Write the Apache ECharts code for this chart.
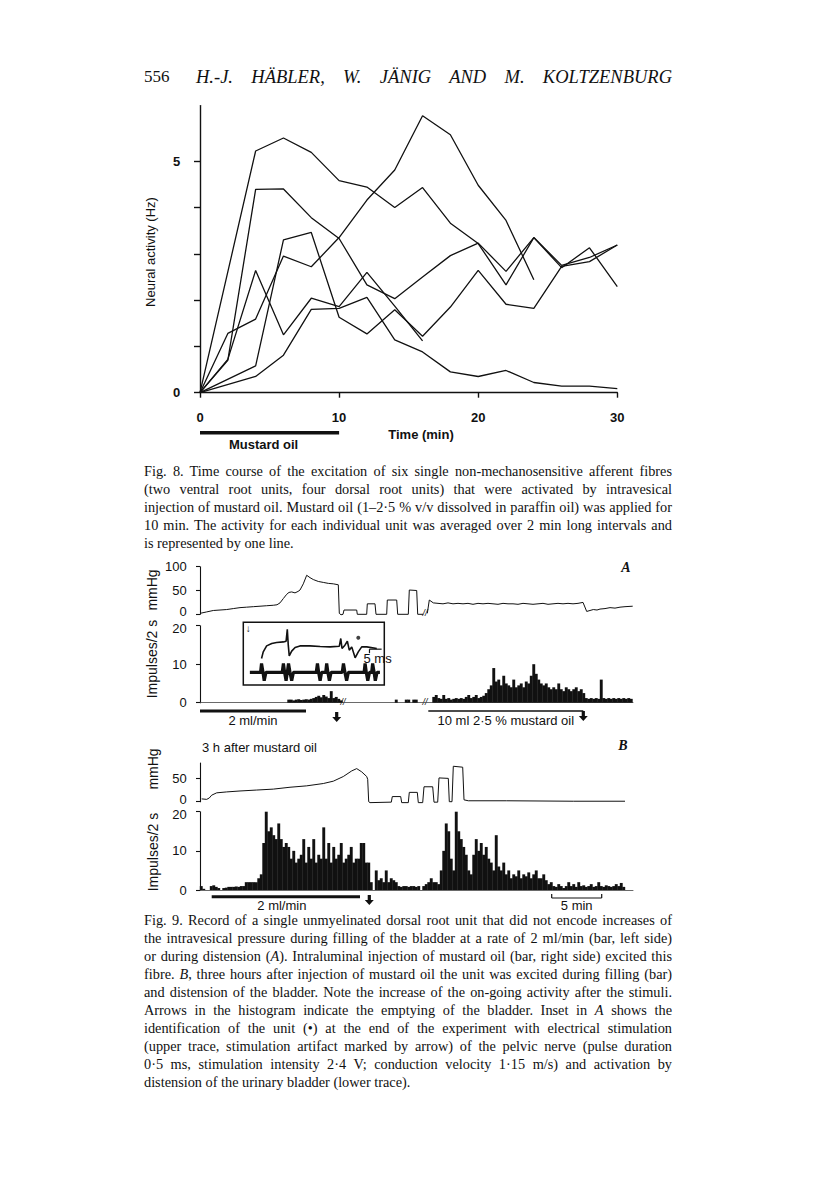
<!DOCTYPE html>
<html><head><meta charset="utf-8">
<script src="https://cdn.jsdelivr.net/npm/echarts@6/dist/echarts.min.js"></script>
<style>
html,body{margin:0;padding:0;background:#fff;}
#page{position:relative;width:816px;height:1183px;overflow:hidden;background:#fff;}
#chart{position:absolute;left:0;top:0;width:816px;height:1183px;}
.hdr{position:absolute;top:67px;height:20px;line-height:20px;font-family:'Liberation Serif','Times New Roman',serif;font-size:18.5px;color:#111;white-space:nowrap;}
.cap{position:absolute;left:144px;width:528px;height:14px;line-height:14px;font-family:'Liberation Serif','Times New Roman',serif;font-size:14.3px;color:#111;white-space:nowrap;}
</style></head>
<body><div id="page">
<div id="chart"></div>
<div class="hdr" style="left:144px;font-size:17px;">556</div>
<div class="hdr jt" data-w="476" style="left:196px;font-style:italic;"><span>H.-J. HÄBLER, W. JÄNIG AND M. KOLTZENBURG</span></div>

<div class="cap jt" data-w="528" style="top:464px"><span>Fig. 8. Time course of the excitation of six single non-mechanosensitive afferent fibres</span></div>
<div class="cap jt" data-w="528" style="top:482px"><span>(two ventral root units, four dorsal root units) that were activated by intravesical</span></div>
<div class="cap jt" data-w="528" style="top:500px"><span>injection of mustard oil. Mustard oil (1–2·5 % v/v dissolved in paraffin oil) was applied for</span></div>
<div class="cap jt" data-w="528" style="top:518px"><span>10 min. The activity for each individual unit was averaged over 2 min long intervals and</span></div>
<div class="cap" style="top:536px"><span>is represented by one line.</span></div>

<div class="cap jt" data-w="528" style="top:913px"><span>Fig. 9. Record of a single unmyelinated dorsal root unit that did not encode increases of</span></div>
<div class="cap jt" data-w="528" style="top:931px"><span>the intravesical pressure during filling of the bladder at a rate of 2 ml/min (bar, left side)</span></div>
<div class="cap jt" data-w="528" style="top:949px"><span>or during distension (<i>A</i>). Intraluminal injection of mustard oil (bar, right side) excited this</span></div>
<div class="cap jt" data-w="528" style="top:967px"><span>fibre. <i>B</i>, three hours after injection of mustard oil the unit was excited during filling (bar)</span></div>
<div class="cap jt" data-w="528" style="top:985px"><span>and distension of the bladder. Note the increase of the on-going activity after the stimuli.</span></div>
<div class="cap jt" data-w="528" style="top:1003px"><span>Arrows in the histogram indicate the emptying of the bladder. Inset in <i>A</i> shows the</span></div>
<div class="cap jt" data-w="528" style="top:1021px"><span>identification of the unit (•) at the end of the experiment with electrical stimulation</span></div>
<div class="cap jt" data-w="528" style="top:1039px"><span>(upper trace, stimulation artifact marked by arrow) of the pelvic nerve (pulse duration</span></div>
<div class="cap jt" data-w="528" style="top:1057px"><span>0·5 ms, stimulation intensity 2·4 V; conduction velocity 1·15 m/s) and activation by</span></div>
<div class="cap" style="top:1075px"><span>distension of the urinary bladder (lower trace).</span></div>
</div>
<script>
// ================= DATA =================
// Fig. 8: neural activity (Hz) of six units vs time (min)
const fig8XTicks = [0, 10, 20, 30];
const fig8YTickLabels = [0, 5];
const fig8YTicks = [0, 1, 2, 3, 4, 5];
const unit1 = [[0,0],[4,5.22],[6,5.50],[8,5.19],[10,4.58],[12,4.44],[14,4.00],[16,4.43],[18,3.66],[20,3.22],[22,2.33],[24,3.35],[26,2.70],[28,3.13],[30,2.29]];
const unit2 = [[0,0],[2,0.70],[4,4.39],[6,4.40],[8,3.78],[10,3.33],[12,2.33],[14,2.03],[16,2.50],[18,2.96],[20,3.23],[22,2.62],[24,3.35],[26,2.75],[28,2.92],[30,3.19]];
const unit3 = [[0,0],[2,1.28],[4,1.59],[6,2.95],[8,2.72],[10,3.35],[12,4.16],[14,4.81],[16,5.98],[18,5.57],[20,4.48],[22,3.72],[24,2.44]];
const unit4 = [[0,0],[4,0.58],[6,3.30],[8,3.46],[10,1.63],[12,1.27],[14,1.79],[16,1.22],[18,1.85],[20,2.64],[22,1.91],[24,1.82],[26,2.73],[28,2.83],[30,3.19]];
const unit5 = [[0,0],[2,0.72],[4,2.64],[6,1.25],[8,2.04],[10,1.86],[12,2.60],[14,1.87],[16,1.12]];
const unit6 = [[0,0],[4,0.35],[6,0.81],[8,1.80],[10,1.82],[12,2.06],[14,1.14],[16,0.88],[18,0.45],[20,0.35],[22,0.48],[24,0.22],[26,0.14],[28,0.14],[30,0.09]];
const mustardOil8 = [0, 10];

// Fig. 9: time in minutes of record (10 px = 1 min), histogram bins of 0.25 min
const binWidth = 0.25;
const pressATicks = [0, 50, 100];
const pressBTicks = [0, 50];
const histTicks = [0, 10, 20];
const pressA = [[0,2],[0.67,5],[1.33,8],[2,9],[2.67,10],[3.33,12],[4,14],[4.67,15],[5.33,16],[6,17],[6.67,18],[7.33,19],[7.7,20],[8,24],[8.33,33],[8.67,42],[8.9,46],[9.17,47],[9.5,45],[9.8,48],[10,51],[10.33,64],[10.67,82],[11,77],[11.33,73],[11.83,69],[12.33,67],[12.83,65],[13.33,64],[13.83,62],[13.93,2],[14.1,-1],[14.3,0],[14.4,9],[15.67,9],[15.73,0],[16.67,0],[16.73,22],[17.5,22],[17.6,0],[18.67,0],[18.73,30],[19.67,30],[19.77,0],[20.83,0],[20.93,51],[21.67,50],[21.77,0],[22.33,0],[22.5,'-'],[22.73,2],[22.93,30],[23.33,24],[23.8,23],[24.3,22],[24.8,24],[25.3,22],[25.8,23],[26.3,22],[26.8,23],[27.3,21],[27.8,23],[28.3,22],[28.8,23],[29.3,22],[29.8,21],[30.3,23],[30.8,22],[31.3,22],[31.8,21],[32.3,23],[32.8,22],[33.3,21],[33.8,22],[34.3,23],[34.8,21],[35.3,22],[35.8,23],[36.3,22],[36.8,23],[37.3,22],[37.8,23],[38.3,25],[38.67,6],[39,8],[39.33,10],[39.7,9],[40,11],[40.5,12],[41,14],[41.5,13],[42,15],[42.5,16],[43.27,17]];
const histA = [0,0,0,0,0,0,0,0,0,0,0,0,0,0,0,0,0,0,0,0,0,0,0,0,0,0,0,0,0,0,0,0,0,0,0,
  0.8,0.8,0.6,0.8,0.9,0.7,0.8,0.9,0.8,1.0,
  1.2,1.5,1.8,1.4,2.0,1.6,1.2,
  3.0,1.2,1.5,1.0,0.6,
  0,0,0,0,0,0,0,0,0,0,0,0,0,0,0,0,0,0,0,0,0,
  0.8,0,0,0,0.8,0.8,0,0.8,0.8,
  0,0,0,0,0,0,
  1.5,2.0,1.2,1.0,2.0,1.0,1.2,0.8,1.0,1.2,1.0,1.2,
  1.0,1.5,2.0,1.2,1.5,2.0,1.2,1.5,1.8,
  2.5,3.5,4.5,
  9.0,5.5,6.0,
  4.5,7.0,5.0,4.5,
  4.0,6.0,4.0,4.5,5.0,4.0,
  5.5,5.0,7.0,
  10.0,7.5,6.0,
  5.0,4.5,5.0,4.0,
  3.5,4.0,3.5,5.0,3.5,3.0,4.0,3.5,3.0,3.5,4.0,3.0,3.5,2.5,
  1.2,1.0,1.2,1.0,1.2,1.0,6.0,1.2,1.0,1.2,1.0,1.2,1.0,1.2,1.0,1.2,1.0,1.2,1.0];
const pressB = [[0.17,6],[0.67,5],[0.93,8],[1.17,14],[1.67,19],[2.67,21],[4,23],[5.67,25],[7.33,27],[9,31],[10.67,34],[12.33,39],[13.33,44],[14.33,54],[15.17,66],[15.67,71],[16.17,64],[16.67,54],[16.77,48],[16.87,0],[17,-2],[19,-1],[19.13,-1],[19.23,11],[20.07,11],[20.17,-2],[20.83,-2],[20.93,20],[21.73,20],[21.83,-2],[22.27,-2],[22.4,32],[23.27,32],[23.4,-1],[23.77,-1],[23.9,51],[24.83,50],[24.93,0],[25.2,0],[25.33,76],[26.27,74],[26.4,4],[26.83,2],[30.67,2],[37.33,1],[42.5,1]];
const histB = [1.0,0.3,0,0,1.0,1.2,0.8,0.5,0,0.5,0.6,0.8,0.8,0.8,0.9,0.8,
  1.0,1.0,2.0,2.0,2.0,2.0,2.0,
  3.0,4.0,
  12,20,15,16,
  14,13,17,13,11,12,
  11,8,10,7,8,9,13,7,11,8,13,7,9,8,16,8,12,7,11,8,9,12,7,8,9,11,7,8,8,12,12,7,7,
  2,0,
  5,2.5,3,2,5,2,3,2.5,2,
  1,0.8,1,1,0.8,1,1,0.8,1,0,
  1,1.5,2,3,2,2,1.5,
  5,10,17,15,8,5,21,15,13,11,9,5,
  4,9,13,10,12,9,11,8,
  7,5,14,6,5,7,
  4,5,3,4,3.5,5,3,4,3.5,4.5,3,4,5,3,
  3,4,2.5,1.5,2,
  1,0.8,1.5,1,0.5,1,2,1,1.5,0.8,2,1,1.2,0.8,1,1.5,0.8,1,2,1,0.8,1.2,1,0.8,1,1.5,1,1.8,0.8];
// stimulus annotations (record minutes)
const fillA = [0, 10.6];
const mustardA = [22.83, 38.33];
const emptyArrowA = 13.67;
const fillB = [1.17, 16.0];
const emptyArrowB = 16.93;
const scaleBarB = [35.17, 40.17];
const breaksA = [14.3, 22.5];
// Inset (ms, arbitrary amplitude)
const insetUpper = [[7.5,26.7],[8.2,33.3],[9.6,39.3],[11.7,41.7],[13.7,42.7],[16.5,43.3],[17.6,44],[18.1,56],[18.5,40],[18.9,29.3],[19.9,34],[21.3,37.7],[23.3,39.3],[27.4,39.3],[31.6,38.7],[35.7,38.3],[39.5,39],[40.1,46.7],[40.6,36.7],[41.8,40],[42.8,44],[43.6,35],[44.6,38.3],[46,27.3],[47.3,33.3],[48.7,38.3],[50.8,38.3],[54.9,36.7]];
const insetLower = [[2.7,12.7],[7.1,12.7],[7.5,21.7],[8.1,12.7],[8.6,4.3],[9.3,12.7],[16,12.7],[16.5,21.7],[17,12.7],[17.6,4.3],[18.1,12.7],[18.6,21.7],[19.2,12.7],[19.9,4.3],[20.6,12.7],[30,12.7],[30.5,21.7],[31,12.7],[31.6,4.3],[32.2,12.7],[33.9,12.7],[34.3,21.7],[34.8,12.7],[35.4,4.3],[36.1,12.7],[40.7,12.7],[41.2,21.7],[41.8,12.7],[42.5,4.3],[43.2,12.7],[49.7,12.7],[50.1,21.7],[50.6,12.7],[51.2,4.3],[51.9,12.7],[52.8,12.7],[53.2,21.7],[53.8,12.7],[54.3,4.3],[55,12.7],[56.2,12.7]];
const insetDot = [[47.3,47.5]];
const insetScale = [51.9, 56.9];

// ================= CHART =================
const INK = '#111';
const SANS = "'Liberation Sans', Arial, Helvetica, sans-serif";
const chart = echarts.init(document.getElementById('chart'), null, {renderer: 'svg', width: 816, height: 1183});

function hiddenX(g, max) {
  return {gridIndex: g, type: 'value', min: 0, max: max, show: false};
}
function histX(g) {
  return {gridIndex: g, type: 'value', min: 0, max: 43.3, axisLine: {show: true, lineStyle: {color: '#444', width: 0.8}},
    axisTick: {show: false}, axisLabel: {show: false}, splitLine: {show: false}};
}
// shiftVal: tick value whose label is nudged ('up' or 'dn') so stacked axes do not collide
function fig9Y(g, min, max, ticks, shiftVal, dir) {
  const rs = {fontSize: 13, fontFamily: SANS, color: INK};
  return {gridIndex: g, type: 'value', min: min, max: max, offset: 7.3,
    axisLine: {show: true, lineStyle: {color: INK, width: 1.1}},
    axisTick: {show: true, length: 4, customValues: ticks, lineStyle: {color: INK, width: 1.1}},
    axisLabel: {customValues: ticks, fontSize: 13, fontFamily: SANS, color: INK, margin: 6,
      formatter: v => (ticks.indexOf(v) < 0 ? '' : (v === shiftVal ? '{' + dir + '|' + v + '}' : String(v))),
      rich: {up: Object.assign({padding: [0, 0, 5, 0]}, rs), dn: Object.assign({padding: [5, 0, 0, 0]}, rs)}},
    splitLine: {show: false}};
}
const bars = (arr) => arr.map((v, i) => [i * binWidth + binWidth / 2, v]);
const fig8Line = (d) => ({type: 'line', xAxisIndex: 0, yAxisIndex: 0, data: d, showSymbol: false, symbol: 'none',
  lineStyle: {color: INK, width: 1.3}, silent: true});

const option = {
  animation: false,
  backgroundColor: 'transparent',
  grid: [
    {left: 200, top: 105.6, width: 417.3, height: 287.1, outerBoundsMode: 'none'},
    {left: 200, top: 566.7, width: 433, height: 47.6, outerBoundsMode: 'none'},
    {left: 200, top: 625.7, width: 433, height: 77, outerBoundsMode: 'none'},
    {left: 200, top: 763, width: 433, height: 38.7, outerBoundsMode: 'none'},
    {left: 200, top: 811.7, width: 433, height: 78.3, outerBoundsMode: 'none'},
    {left: 243.3, top: 622.3, width: 141, height: 62.7, show: true, borderColor: INK, borderWidth: 1.5, backgroundColor: '#fff', outerBoundsMode: 'none'}
  ],
  xAxis: [
    {gridIndex: 0, type: 'value', min: 0, max: 30, interval: 10, offset: 10.6,
      axisLine: {lineStyle: {color: INK, width: 1.4}},
      axisTick: {length: 5, lineStyle: {color: INK, width: 1.4}},
      axisLabel: {fontSize: 13, fontWeight: 'bold', fontFamily: SANS, color: INK, margin: 8,
        formatter: v => (fig8XTicks.indexOf(v) >= 0 ? String(v) : '')},
      splitLine: {show: false}},
    hiddenX(1, 43.3), histX(2), hiddenX(3, 43.3), histX(4), hiddenX(5, 58)
  ],
  yAxis: [
    {gridIndex: 0, type: 'value', min: 0, max: 6.2, offset: 10.7,
      axisLine: {show: true, lineStyle: {color: INK, width: 1.4}},
      axisTick: {show: true, length: 6, customValues: fig8YTicks, lineStyle: {color: INK, width: 1.4}},
      axisLabel: {customValues: fig8YTickLabels, fontSize: 13, fontWeight: 'bold', fontFamily: SANS, color: INK, margin: 9,
        formatter: v => (fig8YTickLabels.indexOf(v) >= 0 ? String(v) : '')},
      splitLine: {show: false}},
    fig9Y(1, 0, 100, pressATicks, 0, 'up'),
    fig9Y(2, 0, 20, histTicks, 20, 'dn'),
    fig9Y(3, 0, 83, pressBTicks, 0, 'up'),
    fig9Y(4, 0, 20, histTicks, 20, 'dn'),
    {gridIndex: 5, type: 'value', min: 0, max: 63, show: false}
  ],
  series: [
    fig8Line(unit1), fig8Line(unit2), fig8Line(unit3), fig8Line(unit4), fig8Line(unit5), fig8Line(unit6),
    {type: 'line', xAxisIndex: 1, yAxisIndex: 1, data: pressA, showSymbol: false, symbol: 'none', clip: false,
      lineStyle: {color: INK, width: 1}, connectNulls: false},
    {type: 'bar', xAxisIndex: 2, yAxisIndex: 2, data: bars(histA), barWidth: 2.9, itemStyle: {color: INK}, silent: true},
    {type: 'line', xAxisIndex: 3, yAxisIndex: 3, data: pressB, showSymbol: false, symbol: 'none', clip: false,
      lineStyle: {color: INK, width: 1}},
    {type: 'bar', xAxisIndex: 4, yAxisIndex: 4, data: bars(histB), barWidth: 2.9, itemStyle: {color: INK}, silent: true},
    {type: 'line', xAxisIndex: 5, yAxisIndex: 5, data: insetUpper, showSymbol: false, symbol: 'none', lineStyle: {color: INK, width: 1.6}},
    {type: 'line', xAxisIndex: 5, yAxisIndex: 5, data: insetLower, showSymbol: false, symbol: 'none', lineStyle: {color: INK, width: 3.2}},
    {type: 'scatter', xAxisIndex: 5, yAxisIndex: 5, data: insetDot, symbolSize: 4, itemStyle: {color: INK}}
  ]
};
chart.setOption(option);

// ================= ANNOTATIONS (positions via the chart's own scales) =================
const px = (g, x, y) => chart.convertToPixel({gridIndex: g}, [x, y]);
const G = [];
function txt(x, y, s, opt) {
  opt = opt || {};
  G.push({type: 'text', x: x, y: y, rotation: opt.rot || 0, silent: true,
    style: {text: s, x: 0, y: 0, fill: INK, textAlign: opt.align || 'center', textVerticalAlign: 'middle',
      font: (opt.style || '') + ' ' + (opt.weight || 'normal') + ' ' + (opt.size || 13) + 'px ' + (opt.family || SANS)}});
}
function hline(x1, x2, y, w) {
  G.push({type: 'line', silent: true, shape: {x1: x1, y1: y, x2: x2, y2: y}, style: {stroke: INK, lineWidth: w}});
}
function vline(x, y1, y2, w) {
  G.push({type: 'line', silent: true, shape: {x1: x, y1: y1, x2: x, y2: y2}, style: {stroke: INK, lineWidth: w}});
}
function arrow(cx, top, h) {
  const s = 1.6, hw = 4.5, hh = 5;
  G.push({type: 'polygon', silent: true, shape: {points: [[cx - s, top], [cx + s, top], [cx + s, top + h - hh], [cx + hw, top + h - hh], [cx, top + h], [cx - hw, top + h - hh], [cx - s, top + h - hh]]}, style: {fill: INK}});
}

// Fig. 8 labels
txt(150, 252, 'Neural activity (Hz)', {rot: Math.PI / 2, size: 13});
txt(421, 434, 'Time (min)', {weight: 'bold'});
const m0 = px(0, mustardOil8[0], 0), m1 = px(0, mustardOil8[1], 0);
hline(m0[0], m1[0], 432.7, 3.6);
txt((m0[0] + m1[0]) / 2 - 6, 444, 'Mustard oil', {weight: 'bold'});

// Fig. 9 A
txt(152, 590, 'mmHg', {rot: Math.PI / 2, size: 14});
txt(152, 659, 'Impulses/2 s', {rot: Math.PI / 2, size: 14});
txt(626, 567, 'A', {style: 'italic', weight: 'bold', size: 14, family: "'Liberation Serif', serif"});
const fa0 = px(2, fillA[0], 0), fa1 = px(2, fillA[1], 0);
hline(fa0[0], fa1[0], 711, 3);
txt(fa0[0] + 53, 720, '2 ml/min');
const ea = px(2, emptyArrowA, 0);
arrow(ea[0], 712, 10);
const ma0 = px(2, mustardA[0], 0), ma1 = px(2, mustardA[1], 0);
hline(ma0[0], ma1[0], 711, 1.5);
arrow(ma1[0], 711, 10);
txt((ma0[0] + ma1[0]) / 2, 720, '10 ml 2·5 % mustard oil');
breaksA.forEach(b => { const p = px(2, b, 0); txt(p[0], p[1] - 1, '//', {style: 'italic', size: 9}); });
const bp = px(1, breaksA[1], 0); txt(bp[0], bp[1] - 1, '//', {style: 'italic', size: 9});

// inset
const su = px(5, 2, 57); txt(su[0], su[1], '↓', {size: 10});
const s0 = px(5, insetScale[0], 36), s1 = px(5, insetScale[1], 36);
hline(s0[0], s1[0], s0[1], 1.2); vline(s0[0], s0[1], s0[1] + 4, 1.2);
txt((s0[0] + s1[0]) / 2 + 2, s0[1] + 9, '5 ms', {size: 13});

// Fig. 9 B
txt(202, 747, '3 h after mustard oil', {align: 'left'});
txt(623, 745, 'B', {style: 'italic', weight: 'bold', size: 14, family: "'Liberation Serif', serif"});
txt(153, 769, 'mmHg', {rot: Math.PI / 2, size: 14});
txt(153, 852, 'Impulses/2 s', {rot: Math.PI / 2, size: 14});
const fb0 = px(4, fillB[0], 0), fb1 = px(4, fillB[1], 0);
hline(fb0[0], fb1[0], 896.7, 3);
txt((fb0[0] + fb1[0]) / 2 - 4, 905, '2 ml/min');
const eb = px(4, emptyArrowB, 0);
arrow(eb[0], 895, 10);
const sb0 = px(4, scaleBarB[0], 0), sb1 = px(4, scaleBarB[1], 0);
hline(sb0[0], sb1[0], 898, 1.2); vline(sb0[0], 894, 898, 1.2); vline(sb1[0], 894, 898, 1.2);
txt((sb0[0] + sb1[0]) / 2, 905, '5 min');

chart.setOption({graphic: {elements: G}});

// ================= text justification =================
document.querySelectorAll('.jt').forEach(el => {
  const span = el.firstElementChild;
  const target = parseFloat(el.getAttribute('data-w'));
  const w = span.getBoundingClientRect().width;
  const n = (span.textContent.match(/ /g) || []).length;
  if (n > 0) span.style.wordSpacing = ((target - w) / n) + 'px';
});
</script>
</body></html>
